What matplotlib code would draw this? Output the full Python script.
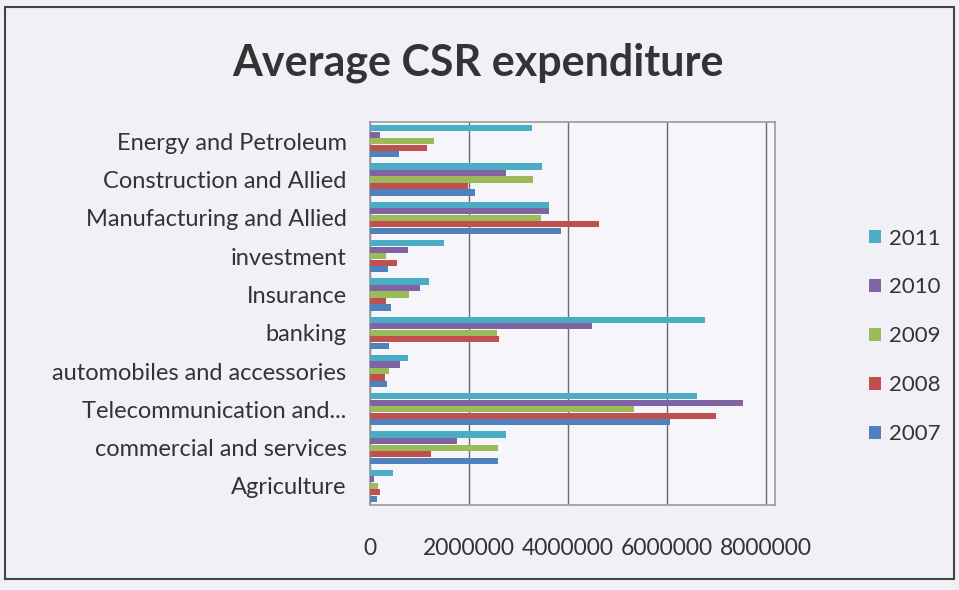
import matplotlib
matplotlib.use("Agg")
import matplotlib.pyplot as plt
import numpy as np
from matplotlib.patches import Rectangle

plt.rcParams['font.family'] = ['Lato', 'DejaVu Sans']

categories = ["Agriculture", "commercial and services", "Telecommunication and...",
              "automobiles and accessories", "banking", "Insurance", "investment",
              "Manufacturing and Allied", "Construction and Allied", "Energy and Petroleum"]
years = ["2007", "2008", "2009", "2010", "2011"]
v2007 = [130000, 2580000, 6070000, 350000, 380000, 420000, 370000, 3850000, 2120000, 590000]
v2008 = [200000, 1230000, 7000000, 300000, 2600000, 320000, 550000, 4620000, 1970000, 1150000]
v2009 = [160000, 2580000, 5330000, 380000, 2570000, 780000, 320000, 3450000, 3300000, 1300000]
v2010 = [80000, 1750000, 7530000, 600000, 4480000, 1000000, 770000, 3620000, 2750000, 190000]
v2011 = [460000, 2750000, 6600000, 770000, 6770000, 1180000, 1490000, 3620000, 3480000, 3270000]
series = [v2007, v2008, v2009, v2010, v2011]
colors = ["#4F81BD", "#C0504D", "#9BBB59", "#8064A2", "#4BACC6"]
xticks = [0, 2000000, 4000000, 6000000, 8000000]
xticklabels = ["0", "2000000", "4000000", "6000000", "8000000"]

bg = "#f1f0f6"
fig = plt.figure(figsize=(9.59, 5.90), dpi=100, facecolor=bg)
ax = fig.add_axes([0.386, 0.144, 0.422, 0.649], facecolor="#f6f5fa")

y = np.arange(len(categories))
h = 0.17
for i, (vals, c, yr) in enumerate(zip(series, colors, years)):
    ax.barh(y + (i - 2) * h, vals, height=h * 0.95, color=c, label=yr, zorder=3)

ax.set_xlim(0, 8180000)
ax.set_ylim(-0.5, 9.5)
ax.set_xticks(xticks)
ax.set_xticklabels(xticklabels, fontsize=16.5, color="#333333")
ax.set_yticks(y)
ax.set_yticklabels(categories, fontsize=17, color="#333333")
ax.tick_params(axis='x', length=0, pad=24)
ax.tick_params(axis='y', length=0, pad=17)
ax.grid(axis='x', color="#6a6a6a", linewidth=1.0, zorder=0)
for s in ax.spines.values():
    s.set_color("#9a9a9a")
    s.set_linewidth(1.2)

fig.text(0.498, 0.893, "Average CSR expenditure", fontsize=31, fontweight='bold',
         ha='center', va='center', color="#333333")

handles, labels = ax.get_legend_handles_labels()
leg = fig.legend(handles[::-1], labels[::-1], loc='center left', bbox_to_anchor=(0.885, 0.43),
                 frameon=False, fontsize=16, labelspacing=1.3, handlelength=0.55,
                 handleheight=0.55, handletextpad=0.35)
for t in leg.get_texts():
    t.set_color("#333333")

fig.patches.append(Rectangle((0.005, 0.018), 0.99, 0.97, transform=fig.transFigure,
                             fill=False, edgecolor="#444444", linewidth=1.5))

fig.savefig("out.png", dpi=100, facecolor=bg)
